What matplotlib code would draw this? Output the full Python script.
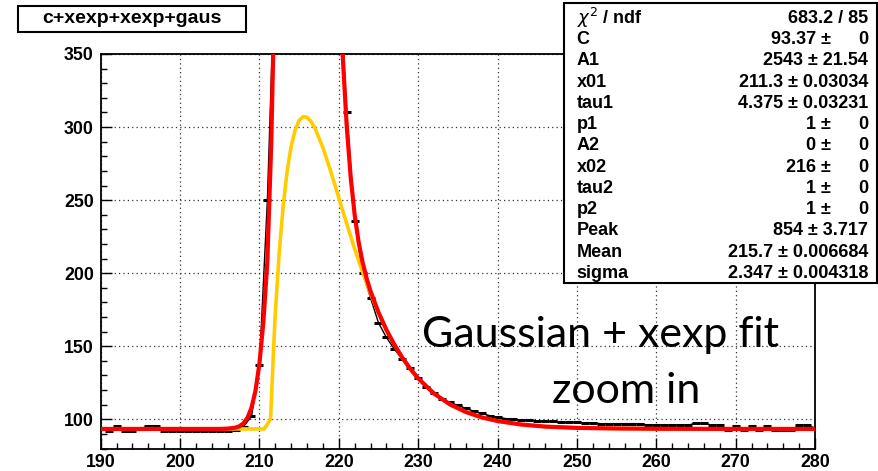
import matplotlib
matplotlib.use("Agg")
import matplotlib.pyplot as plt
from matplotlib.patches import Rectangle
from matplotlib.ticker import MultipleLocator

# ---------------- data ----------------
data_x = list(range(190, 281))
data_y = [93.5, 92, 95.5, 92, 91.8, 93.5, 95.5, 95.5, 92, 91.8,
          91.8, 91.8, 91.8, 91.8, 91.8, 91.8, 92, 92.5, 95, 102,
          137, 250, 420, 600, 850, 1050, 1150, 1050, 820, 590,
          410, 310, 236, 200, 183, 166, 156, 148, 141, 135,
          128, 122, 118, 114, 111.5, 109.5, 107.5, 105.5, 104, 102.5,
          101.5, 100.5, 100, 99.5, 99.5, 99, 98.5, 98.5, 98, 98,
          98, 97.5, 97.5, 97, 97, 97, 97, 97, 97, 96,
          96, 96, 96, 96, 96, 97.3, 97.3, 96, 96, 92.5,
          95.5, 92.5, 95.5, 92.5, 95.5, 92.5, 92.5, 92.5, 96, 96,
          94]

yellow_x = [190, 210.6, 211.4, 211.8, 212, 212.5, 213, 213.5, 214, 214.5,
            215, 215.5, 216, 216.5, 217, 218, 219, 220, 221, 222,
            223, 224, 225, 226, 227, 228, 229, 230, 232, 234,
            236, 238, 240, 243, 246, 250, 255, 260, 270, 280]
yellow_y = [93.4, 93.4, 100, 150, 172.7, 214.6, 246.5, 270.2, 286.9, 298,
            304.4, 307.1, 306.6, 303.9, 299.2, 285.9, 269.4, 251.6, 233.8, 216.6,
            200.6, 186, 172.9, 161.2, 151.1, 142.2, 134.6, 128, 117.6, 110.2,
            105, 101.3, 98.8, 96.4, 95.0, 94.1, 93.7, 93.5, 93.4, 93.4]

red_x = [190, 205, 206, 207, 207.5, 208, 208.5, 209, 209.5, 210,
         210.5, 211, 211.5, 212, 212.5, 213, 214, 215.7, 217, 218,
         219, 219.5, 220, 220.5, 221, 221.5, 222, 222.5, 223, 223.5,
         224, 225, 226, 227, 228, 229, 230, 232, 234, 236,
         238, 240, 243, 246, 250, 255, 260, 270, 280]
red_y = [93.4, 93.4, 93.6, 94.3, 95.3, 97.3, 101.1, 107.9, 119.5, 138.1,
         166.8, 208.4, 291, 419, 552, 687, 944, 1161, 1032, 814,
         587, 491, 411, 348, 300.5, 265.6, 239.9, 221.2, 207.4, 196.5,
         187.6, 173.2, 161.2, 151.1, 142.2, 134.6, 128, 117.6, 110.2, 105,
         101.3, 98.8, 96.4, 95.0, 94.1, 93.7, 93.5, 93.4, 93.4]

title_text = "c+xexp+xexp+gaus"
stat_labels = [r"$\chi^{2}$ / ndf", "C", "A1", "x01", "tau1", "p1", "A2",
               "x02", "tau2", "p2", "Peak", "Mean", "sigma"]
stat_values = ["683.2 / 85", "93.37", "2543", "211.3", "4.375", "1", "0",
               "216", "1", "1", "854", "215.7", "2.347"]
stat_errors = [None, "0", "21.54", "0.03034", "0.03231", "0", "0",
               "0", "0", "0", "3.717", "0.006684", "0.004318"]

x_ticks = list(range(190, 281, 10))
y_ticks = [100, 150, 200, 250, 300, 350]

# ---------------- figure ----------------
W, H = 879, 471
fig = plt.figure(figsize=(W / 100, H / 100), dpi=100)
fig.patch.set_facecolor("white")

def fx(px):
    return px / W

def fy(py):
    return 1 - py / H

left, right, top, bottom = 100.7, 815, 54, 448.5
ax = fig.add_axes([fx(left), fy(bottom), fx(right) - fx(left), fy(top) - fy(bottom)])

ax.plot(data_x, data_y, color="black", lw=1.0, zorder=2)
ax.plot(data_x, data_y, linestyle="none", marker="_", ms=6, mew=2.2,
        color="black", zorder=2)
ax.plot(yellow_x, yellow_y, color="#FFCC00", lw=2.6, zorder=3,
        solid_joinstyle="round")
ax.plot(red_x, red_y, color="#FF0000", lw=3.0, zorder=4,
        solid_joinstyle="round")

ax.set_xlim(190, 280)
ax.set_ylim(80, 350)
ax.set_xticks(x_ticks)
ax.set_yticks(y_ticks)
ax.xaxis.set_minor_locator(MultipleLocator(2))
ax.yaxis.set_minor_locator(MultipleLocator(10))
tick_font = dict(family="Liberation Sans", weight="bold", size=12.8)
ax.set_xticklabels([str(t) for t in x_ticks], **tick_font)
ax.set_yticklabels([str(t) for t in y_ticks], **tick_font)
ax.tick_params(axis="both", which="major", direction="in", length=8,
               width=1.0, color="black")
ax.tick_params(axis="both", which="minor", direction="in", length=4,
               width=1.0, color="black")
ax.tick_params(axis="x", pad=4)
ax.tick_params(axis="y", pad=5)
ax.grid(True, which="major", color="#333333", linestyle=(0, (1, 2.5)), lw=0.9)
for s in ax.spines.values():
    s.set_linewidth(1.3)
    s.set_color("black")

# title box
fig.add_artist(Rectangle((fx(18.3), fy(31.7)), fx(246) - fx(18.3), fy(5.7) - fy(31.7),
                         transform=fig.transFigure, facecolor="white",
                         edgecolor="black", lw=1.5, zorder=5))
fig.text(fx(132), fy(18.7), title_text, ha="center", va="center",
         family="Liberation Sans", weight="bold", size=14, zorder=6)

# stats box
fig.add_artist(Rectangle((fx(564), fy(283)), fx(877) - fx(564), fy(3) - fy(283),
                         transform=fig.transFigure, facecolor="white",
                         edgecolor="black", lw=1.5, zorder=5))
sfont = dict(family="Liberation Sans", weight="bold", size=13)
for i, (lab, val, err) in enumerate(zip(stat_labels, stat_values, stat_errors)):
    yc = fy(18.3 + i * 21.25)
    fig.text(fx(576.7), yc, lab, ha="left", va="center", zorder=6, **sfont)
    if err is None:
        fig.text(fx(868.3), yc, val, ha="right", va="center", zorder=6, **sfont)
    elif err == "0":
        fig.text(fx(831), yc, val + " \u00b1", ha="right", va="center", zorder=6, **sfont)
        fig.text(fx(868.3), yc, err, ha="right", va="center", zorder=6, **sfont)
    else:
        fig.text(fx(868.3), yc, val + " \u00b1 " + err, ha="right", va="center",
                 zorder=6, **sfont)

# annotation
fig.text(fx(421.7), fy(346.7), "Gaussian + xexp fit", ha="left", va="baseline",
         family="Lato", size=31, zorder=6)
fig.text(fx(551.7), fy(403), "zoom in", ha="left", va="baseline",
         family="Lato", size=31, zorder=6)

fig.savefig("out.png", dpi=100)
